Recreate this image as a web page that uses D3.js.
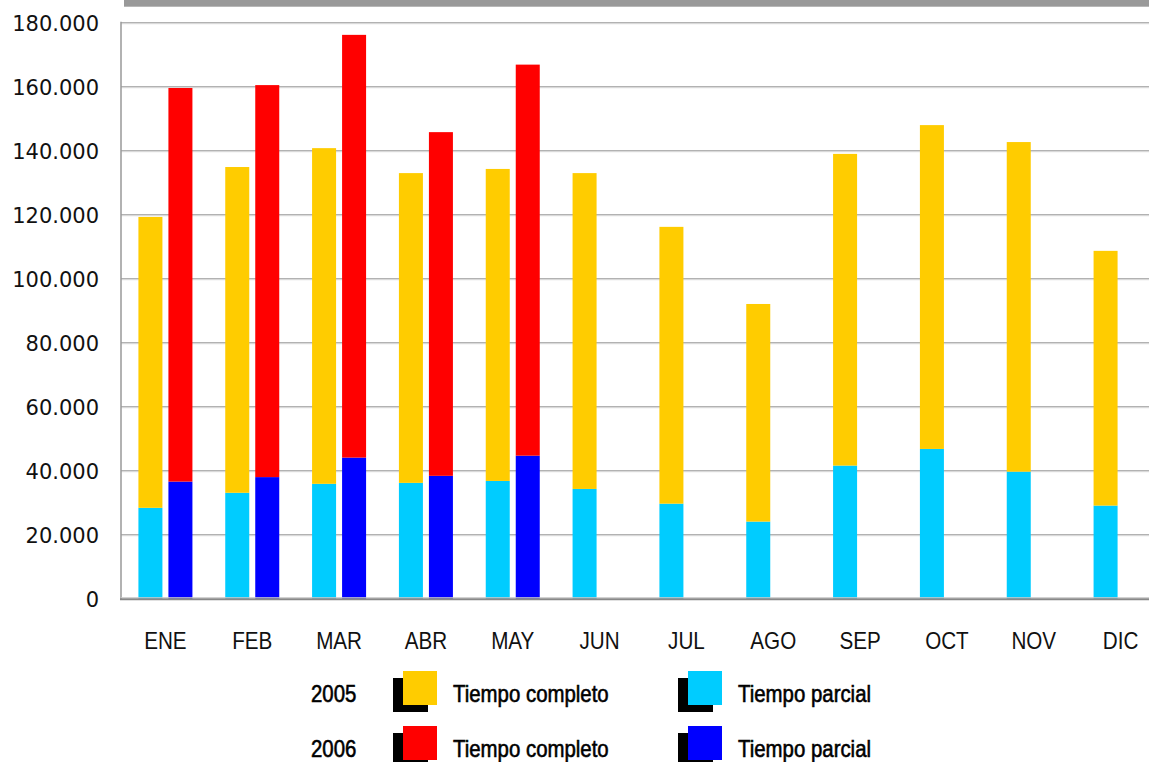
<!DOCTYPE html>
<html><head><meta charset="utf-8">
<script src="https://cdn.jsdelivr.net/npm/d3@7"></script>
<style>body{margin:0;background:#fff} svg{display:block}</style>
</head><body><svg id="c" width="1149" height="762"></svg>
<script>
const months = ["ENE","FEB","MAR","ABR","MAY","JUN","JUL","AGO","SEP","OCT","NOV","DIC"];
const years = ["2005","2006"];
const parcial2005  = [28400,33100,35900,36200,36800,34300,29700,24100,41600,46800,39700,29100];
const completo2005 = [90900,101800,104900,96800,97500,98700,86500,68000,97400,101200,103000,79600];
const parcial2006  = [36600,38000,44100,38400,44700];
const completo2006 = [123000,122500,132100,107400,122200];
const yTicks = [0,20000,40000,60000,80000,100000,120000,140000,160000,180000];
const legendLabels = ["Tiempo completo","Tiempo parcial"];
const colors = {"2005":["#FFCC00","#00CCFF"],"2006":["#FF0000","#0000FF"]};

(function(){
const svg = d3.select("#c");
const pLeft = 121, pRight = 1164, pTop = 22.7, pBottom = 598.7;

const x0 = d3.scaleBand().domain(months).range([pLeft+1, pRight]);
const x1 = d3.scaleBand().domain(years).range([0, x0.bandwidth()]).paddingInner(0.2).paddingOuter(0.547);
const y = d3.scaleLinear().domain([0,180000]).range([pBottom, pTop]);

const loc = d3.formatLocale({decimal:",", thousands:".", grouping:[3], currency:["","€"]});
const fmt = loc.format(",");

function narrow(sel, k){
  sel.each(function(){
    const w = this.getComputedTextLength();
    d3.select(this).attr("textLength", w*k).attr("lengthAdjust","spacingAndGlyphs");
  });
}

svg.append("rect").attr("x",124).attr("y",0).attr("width",1025).attr("height",6.7).attr("fill","#999");

const grid = svg.append("g");
yTicks.filter(t=>t>0).forEach(t=>{
  grid.append("line").attr("x1",pLeft).attr("x2",1149).attr("y1",y(t)).attr("y2",y(t)).attr("stroke","#a0a0a0").attr("stroke-width",1);
  grid.append("line").attr("x1",pLeft).attr("x2",1149).attr("y1",y(t)+1).attr("y2",y(t)+1).attr("stroke","#d4d4d4").attr("stroke-width",1);
});

const yAxis = d3.axisLeft(y).tickValues(yTicks).tickFormat(fmt).tickSize(0).tickPadding(0);
const ya = svg.append("g").attr("transform","translate(99,0)").call(yAxis);
ya.select(".domain").remove();
ya.selectAll("text").attr("font-family","DejaVu Sans, Verdana, sans-serif").attr("font-size",21).attr("fill","#111").attr("dy","0.38em");

function drawYear(yr, parc, comp){
  const g = svg.append("g");
  parc.forEach((p,i)=>{
    const c = comp[i];
    const xx = x0(months[i]) + x1(yr);
    g.append("rect").attr("x",xx).attr("width",x1.bandwidth()).attr("y",y(p)).attr("height",y(0)-y(p)).attr("fill",colors[yr][1]);
    g.append("rect").attr("x",xx).attr("width",x1.bandwidth()).attr("y",y(p+c)).attr("height",y(p)-y(p+c)).attr("fill",colors[yr][0]);
  });
}
drawYear("2005", parcial2005, completo2005);
drawYear("2006", parcial2006, completo2006);

svg.append("line").attr("x1",pLeft).attr("x2",pLeft).attr("y1",pTop-1).attr("y2",pBottom+1).attr("stroke","#999").attr("stroke-width",1.5);
svg.append("line").attr("x1",pLeft).attr("x2",1149).attr("y1",pBottom-1).attr("y2",pBottom-1).attr("stroke","#c8c8c8").attr("stroke-width",1);
svg.append("line").attr("x1",pLeft-1).attr("x2",1149).attr("y1",pBottom+0.5).attr("y2",pBottom+0.5).attr("stroke","#888").attr("stroke-width",2);

const xAxis = d3.axisBottom(x0).tickSize(0).tickPadding(0);
const xa = svg.append("g").attr("transform","translate(0,640)").call(xAxis);
xa.select(".domain").remove();
xa.selectAll("text").attr("font-family","Liberation Sans, Arial, sans-serif").attr("font-size",24).attr("fill","#111").attr("dy","0.36em").call(narrow, 0.86);

const lg = svg.append("g").attr("font-family","Liberation Sans, Arial, sans-serif").attr("fill","#000");
years.forEach((yr,r)=>{
  const cy = 688 + r*55;
  const ty = cy + 5;
  lg.append("text").attr("x",311).attr("y",ty).attr("dy","0.36em").attr("font-size",24).attr("stroke","#000").attr("stroke-width",0.6).text(yr).call(narrow, 0.85);
  [0,1].forEach(k=>{
    const bx = k===0 ? 403 : 688;
    lg.append("rect").attr("x",bx-10).attr("y",cy-10).attr("width",35).attr("height",34).attr("fill","#000");
    lg.append("rect").attr("x",bx).attr("y",cy-17).attr("width",34).attr("height",34).attr("fill",colors[yr][k]);
    lg.append("text").attr("x",bx+50).attr("y",ty).attr("dy","0.36em").attr("font-size",24).attr("stroke","#000").attr("stroke-width",0.6).text(legendLabels[k]).call(narrow, 0.85);
  });
});
})();
</script></body></html>
